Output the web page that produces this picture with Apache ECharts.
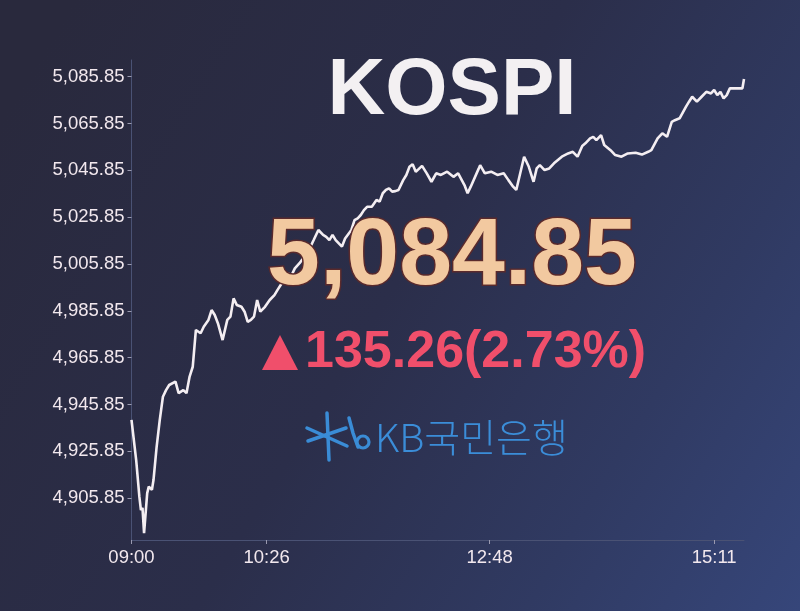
<!DOCTYPE html>
<html>
<head>
<meta charset="utf-8">
<script src="https://cdn.jsdelivr.net/npm/echarts@6/dist/echarts.min.js"></script>
<style>
  html, body { margin: 0; padding: 0; background: #2b2c42; }
  #chart { width: 800px; height: 611px; }
</style>
</head>
<body>
<div id="chart"></div>
<script>
// ---- Data ----
const times = [
  '09:00','09:03','09:05','09:06','09:07','09:08','09:09','09:10','09:11','09:13',
  '09:14','09:16','09:18','09:20','09:22','09:24','09:28','09:30','09:33','09:35',
  '09:37','09:39','09:41','09:44','09:46','09:49','09:51','09:53','09:55','09:58',
  '10:01','10:03','10:05','10:07','10:10','10:12','10:14','10:16','10:18','10:20',
  '10:22','10:25','10:28','10:31','10:33','10:36','10:39','10:42','10:44','10:47',
  '10:50','10:54','10:56','10:59','11:02','11:04','11:06','11:08','11:10','11:12',
  '11:14','11:16','11:20','11:22','11:24','11:26','11:28','11:30','11:33','11:36',
  '11:38','11:40','11:42','11:44','11:46','11:48','11:50','11:53','11:55','11:57',
  '11:59','12:01','12:03','12:05','12:08','12:11','12:14','12:17','12:21','12:25',
  '12:28','12:32','12:34','12:36','12:41','12:42','12:45','12:49','12:53','12:57',
  '13:00','13:03','13:05','13:08','13:10','13:13','13:15','13:16','13:18','13:20',
  '13:23','13:26','13:29','13:34','13:38','13:41','13:44','13:47','13:49','13:52',
  '13:54','13:56','13:59','14:01','14:05','14:08','14:12','14:16','14:21','14:25',
  '14:29','14:31','14:35','14:38','14:41','14:44','14:46','14:49','14:53','14:55',
  '14:57','15:00','15:03','15:06','15:09','15:11','15:13','15:15','15:17','15:19',
  '15:21','15:29','15:30'
];
const kospi = [
  4939.3,4922.0,4906.5,4900.8,4901.7,4890.9,4899.5,4908.0,4910.8,4909.4,
  4913.6,4927.8,4939.3,4949.2,4952.0,4954.2,4955.6,4950.7,4952.0,4950.7,
  4957.8,4962.0,4977.7,4976.3,4979.1,4982.0,4986.2,4984.1,4980.6,4973.4,
  4982.0,4983.4,4991.2,4988.4,4987.6,4985.5,4981.2,4982.0,4983.4,4990.5,
  4985.5,4987.6,4990.5,4992.6,4994.8,4998.0,5001.9,5001.2,5004.0,5006.2,
  5009.0,5013.3,5016.1,5020.4,5018.3,5017.5,5016.1,5018.3,5016.1,5014.7,
  5013.3,5016.8,5020.4,5024.6,5025.4,5026.8,5028.9,5030.3,5030.3,5033.2,
  5032.5,5036.1,5037.5,5038.2,5036.8,5037.0,5037.5,5041.7,5043.9,5047.4,
  5048.5,5045.3,5046.5,5047.8,5044.6,5041.0,5044.6,5043.9,5045.3,5043.1,
  5044.6,5039.6,5036.1,5038.9,5046.5,5048.1,5044.6,5045.3,5043.9,5044.6,
  5041.7,5038.9,5037.5,5046.0,5051.7,5047.4,5043.1,5041.0,5046.7,5048.1,
  5046.0,5046.7,5048.9,5051.7,5053.1,5053.8,5051.7,5056.3,5057.4,5059.5,
  5060.2,5058.8,5060.9,5056.7,5054.5,5052.4,5051.7,5053.1,5053.4,5052.6,
  5053.8,5054.5,5059.5,5061.7,5060.2,5066.6,5067.3,5068.1,5073.0,5075.2,
  5077.3,5075.2,5077.3,5079.4,5078.7,5080.2,5078.0,5079.4,5076.6,5078.0,
  5080.9,5080.9,5084.85
];
const xTickLabels = ['09:00','10:26','12:48','15:11'];
const yTickValues = [4905.85,4925.85,4945.85,4965.85,4985.85,5005.85,5025.85,5045.85,5065.85,5085.85];
const sessionStart = '09:00';
const sessionEnd = '15:30';
const titleText = 'KOSPI';
const closeText = '5,084.85';
const changeText = '135.26(2.73%)';
const bankText = 'KB국민은행';

// ---- helpers ----
function toMin(t) { const p = t.split(':'); return (+p[0]) * 60 + (+p[1]); }
const base = toMin(sessionStart);
const seriesData = times.map((t, i) => [toMin(t) - base, kospi[i]]);
const xTickMins = xTickLabels.map(t => toMin(t) - base);
function minToLabel(m) {
  const tot = base + Math.round(m);
  const h = Math.floor(tot / 60), mm = tot % 60;
  return String(h).padStart(2, '0') + ':' + String(mm).padStart(2, '0');
}

const chart = echarts.init(document.getElementById('chart'), null, { renderer: 'canvas' });
const labelFont = '"Liberation Sans", Arial, sans-serif';
const logoBlue = '#3a8cd6';

const option = {
  animation: false,
  backgroundColor: {
    type: 'linear', x: 0, y: 0.2, x2: 1, y2: 1,
    colorStops: [
      { offset: 0, color: '#29293d' },
      { offset: 0.45, color: '#2b2e4a' },
      { offset: 0.75, color: '#303a62' },
      { offset: 1, color: '#36467a' }
    ]
  },
  grid: { left: 131.5, right: 56, top: 60, bottom: 71, containLabel: false },
  xAxis: {
    type: 'value',
    min: 0,
    max: toMin(sessionEnd) - base,
    splitLine: { show: false },
    axisLine: { show: true, lineStyle: { color: '#4a5274', width: 1 } },
    axisTick: { show: true, length: 4, customValues: xTickMins, lineStyle: { color: '#9a9ab0' } },
    axisLabel: {
      customValues: xTickMins,
      formatter: v => minToLabel(v),
      color: '#f2e8ee',
      fontFamily: labelFont,
      fontSize: 18.5,
      margin: 8
    }
  },
  yAxis: {
    type: 'value',
    min: 4888,
    max: 5093,
    splitLine: { show: false },
    axisLine: { show: true, lineStyle: { color: '#4a5274', width: 1 } },
    axisTick: { show: true, length: 4, customValues: yTickValues, lineStyle: { color: '#9a9ab0' } },
    axisLabel: {
      customValues: yTickValues,
      formatter: v => v.toLocaleString('en-US', { minimumFractionDigits: 2, maximumFractionDigits: 2 }),
      color: '#f2e8ee',
      fontFamily: labelFont,
      fontSize: 18.5,
      margin: 7
    }
  },
  series: [{
    type: 'line',
    data: seriesData,
    showSymbol: false,
    symbol: 'none',
    lineStyle: { color: '#f4eef2', width: 2.6 },
    z: 2
  }],
  graphic: [
    {
      type: 'text', z: 100,
      style: {
        text: titleText, x: 452, y: 92, align: 'center', verticalAlign: 'middle',
        fill: '#f3f0f2', font: 'bold 80px "Liberation Sans", Arial, sans-serif'
      }
    },
    {
      type: 'text', z: 100,
      style: {
        text: closeText, x: 452, y: 258, align: 'center', verticalAlign: 'middle',
        fill: '#f2c9a0', stroke: '#5a2a2c', lineWidth: 3,
        font: 'bold 95px "Liberation Sans", Arial, sans-serif'
      }
    },
    {
      type: 'polygon', z: 100,
      shape: { points: [[262, 370], [298, 370], [280, 335]] },
      style: { fill: '#f04f6b' }
    },
    {
      type: 'text', z: 100,
      style: {
        text: changeText, x: 305, y: 353, align: 'left', verticalAlign: 'middle',
        fill: '#f04f6b', font: 'bold 52px "Liberation Sans", Arial, sans-serif'
      }
    },
    {
      type: 'group', z: 100,
      children: [
        { type: 'line', shape: { x1: 327, y1: 413, x2: 329, y2: 460 }, style: { stroke: logoBlue, lineWidth: 3.5, lineCap: 'round' } },
        { type: 'line', shape: { x1: 307, y1: 428, x2: 347, y2: 446 }, style: { stroke: logoBlue, lineWidth: 3.5, lineCap: 'round' } },
        { type: 'line', shape: { x1: 308, y1: 441, x2: 346, y2: 428 }, style: { stroke: logoBlue, lineWidth: 3.5, lineCap: 'round' } },
        { type: 'polyline', shape: { points: [[349, 418], [353, 433], [358, 447]] }, style: { stroke: logoBlue, lineWidth: 3.5, lineCap: 'round', fill: null } },
        { type: 'circle', shape: { cx: 363, cy: 442, r: 6 }, style: { stroke: logoBlue, lineWidth: 3.2, fill: null } }
      ]
    },
    {
      type: 'text', z: 100,
      style: {
        text: bankText, x: 375, y: 437, align: 'left', verticalAlign: 'middle',
        fill: '#3b8dd8', font: '300 39px "Noto Sans CJK KR", "Noto Sans", sans-serif'
      }
    }
  ]
};
chart.setOption(option);
</script>
</body>
</html>
